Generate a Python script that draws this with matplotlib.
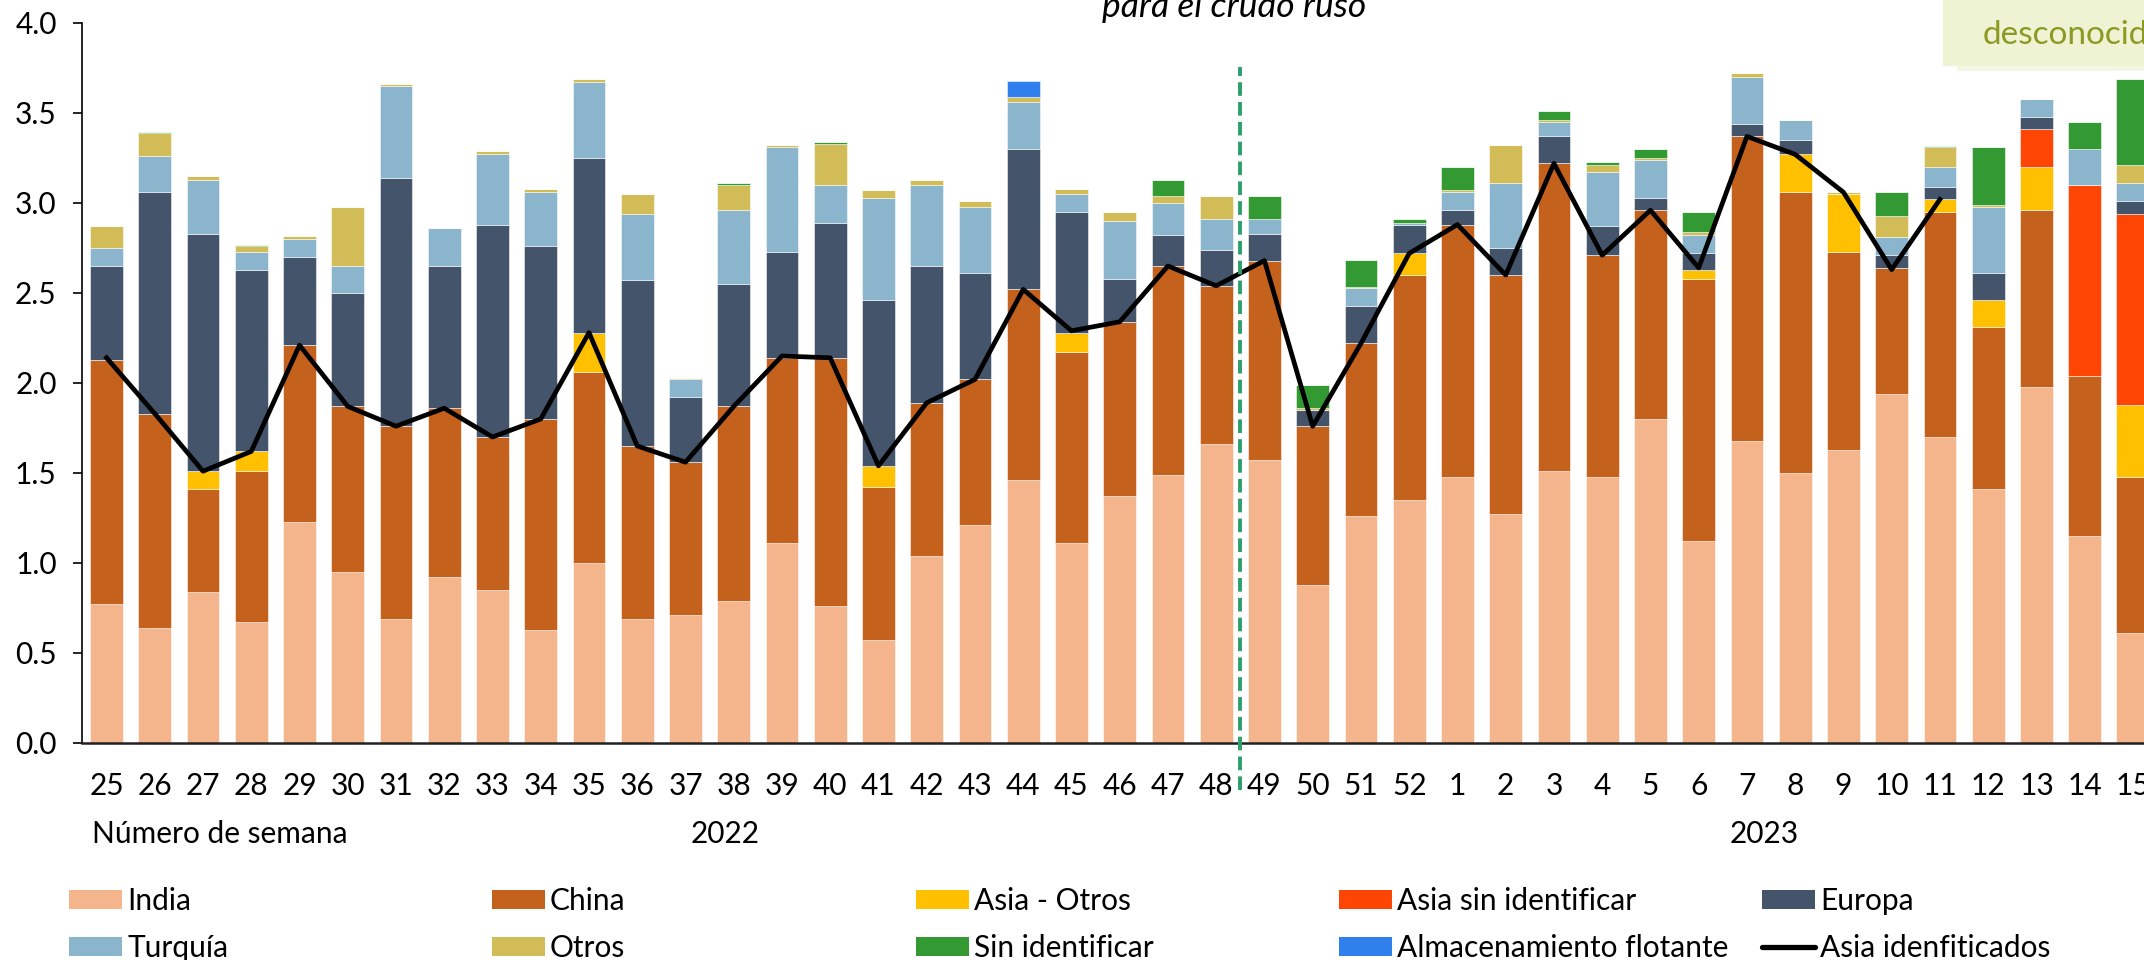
import numpy as np
import matplotlib
matplotlib.use('Agg')
import matplotlib.pyplot as plt
from matplotlib.patches import Patch, Rectangle
from matplotlib.lines import Line2D

plt.rcParams['font.family'] = ['Lato', 'DejaVu Sans']

weeks = [str(w) for w in list(range(25, 53)) + list(range(1, 16))]

india = [0.77, 0.64, 0.84, 0.67, 1.23, 0.95, 0.69, 0.92, 0.85, 0.63, 1.00, 0.69, 0.71, 0.79,
         1.11, 0.76, 0.57, 1.04, 1.21, 1.46, 1.11, 1.37, 1.49, 1.66, 1.57, 0.88, 1.26, 1.35,
         1.48, 1.27, 1.51, 1.48, 1.80, 1.12, 1.68, 1.50, 1.63, 1.94, 1.70, 1.41, 1.98, 1.15, 0.61]
china = [1.36, 1.19, 0.57, 0.84, 0.98, 0.92, 1.07, 0.94, 0.85, 1.17, 1.06, 0.96, 0.85, 1.08,
         1.03, 1.38, 0.85, 0.85, 0.81, 1.06, 1.06, 0.97, 1.16, 0.88, 1.11, 0.88, 0.96, 1.25,
         1.40, 1.33, 1.71, 1.23, 1.16, 1.46, 1.69, 1.56, 1.10, 0.70, 1.25, 0.90, 0.98, 0.89, 0.87]
asia_otros = [0, 0, 0.10, 0.11, 0, 0, 0, 0, 0, 0, 0.22, 0, 0, 0,
              0, 0, 0.12, 0, 0, 0, 0.11, 0, 0, 0, 0, 0, 0, 0.12,
              0, 0, 0, 0, 0, 0.05, 0, 0.21, 0.32, 0, 0.07, 0.15, 0.24, 0, 0.40]
asia_sin_id = [0] * 40 + [0.21, 1.06, 1.06]
europa = [0.52, 1.23, 1.32, 1.01, 0.49, 0.63, 1.38, 0.79, 1.18, 0.96, 0.97, 0.92, 0.36, 0.68,
          0.59, 0.75, 0.92, 0.76, 0.59, 0.78, 0.67, 0.24, 0.17, 0.20, 0.15, 0.09, 0.21, 0.16,
          0.08, 0.15, 0.15, 0.16, 0.07, 0.09, 0.07, 0.08, 0, 0.07, 0.07, 0.15, 0.07, 0, 0.07]
turquia = [0.10, 0.20, 0.30, 0.10, 0.10, 0.15, 0.51, 0.21, 0.39, 0.30, 0.42, 0.37, 0.10, 0.41,
           0.58, 0.21, 0.57, 0.45, 0.37, 0.26, 0.10, 0.32, 0.18, 0.17, 0.08, 0, 0.10, 0.01,
           0.10, 0.36, 0.08, 0.30, 0.21, 0.10, 0.26, 0.11, 0, 0.10, 0.11, 0.37, 0.10, 0.20, 0.10]
otros = [0.12, 0.13, 0.02, 0.03, 0.015, 0.33, 0.01, 0, 0.02, 0.02, 0.02, 0.11, 0.01, 0.14,
         0.01, 0.23, 0.04, 0.03, 0.03, 0.03, 0.03, 0.05, 0.04, 0.13, 0, 0.01, 0.005, 0,
         0.01, 0.21, 0.01, 0.04, 0.01, 0.02, 0.02, 0, 0.01, 0.12, 0.11, 0.01, 0, 0, 0.10]
sin_id = [0, 0.005, 0, 0.005, 0, 0, 0, 0, 0, 0, 0, 0, 0, 0.01,
          0, 0.01, 0, 0, 0, 0, 0, 0, 0.09, 0, 0.13, 0.13, 0.15, 0.02,
          0.13, 0, 0.05, 0.02, 0.05, 0.11, 0, 0, 0, 0.13, 0.005, 0.32, 0, 0.15, 0.48]
almacenamiento = [0] * 19 + [0.09] + [0] * 23
asia_identificados = [2.14, 1.83, 1.51, 1.62, 2.21, 1.87, 1.76, 1.86, 1.70, 1.80, 2.28, 1.65, 1.56, 1.87,
                      2.15, 2.14, 1.54, 1.89, 2.02, 2.52, 2.29, 2.34, 2.65, 2.54, 2.68, 1.76, 2.22, 2.72,
                      2.88, 2.60, 3.22, 2.71, 2.96, 2.64, 3.37, 3.27, 3.06, 2.63, 3.02,
                      np.nan, np.nan, np.nan, np.nan]

series = [
    ('India', india, '#F4B58C'),
    ('China', china, '#C4611C'),
    ('Asia - Otros', asia_otros, '#FFC000'),
    ('Asia sin identificar', asia_sin_id, '#FF4503'),
    ('Europa', europa, '#44546A'),
    ('Turquía', turquia, '#8BB5CD'),
    ('Otros', otros, '#D2BC57'),
    ('Sin identificar', sin_id, '#339933'),
    ('Almacenamiento flotante', almacenamiento, '#2F7FEC'),
]

FS = 21.5
W, H = 2144, 960
fig = plt.figure(figsize=(W / 100, H / 100), dpi=100)
ax = fig.add_axes([82.4 / W, 217 / H, 1 - 82.4 / W, 720 / H])

x = np.arange(len(weeks))
bottom = np.zeros(len(weeks))
handles = {}
for name, vals, color in series:
    vals = np.array(vals, dtype=float)
    ax.bar(x, vals, width=0.68, bottom=bottom, color=color,
           edgecolor=(1, 1, 1, 0.6), linewidth=0.6)
    bottom += vals
    handles[name] = Patch(facecolor=color, edgecolor='none')

ax.plot(x, asia_identificados, color='black', lw=3.4)
handles['Asia idenfiticados'] = Line2D([], [], color='black', lw=3.8, solid_capstyle='round')

# separation 2022 / 2023 data
ax.axvline(23.5, ymin=-0.065, ymax=0.939, color='#2E9F6C', lw=2.8,
           ls=(0, (3.5, 1.6)), clip_on=False, zorder=5)

ax.set_xlim(-0.5, 42.23)
ax.set_ylim(0, 4)
ax.set_xticks(x)
ax.set_xticklabels(weeks)
ax.set_yticks(np.arange(0, 4.01, 0.5))
ax.set_yticklabels([f'{v:.1f}' for v in np.arange(0, 4.01, 0.5)])
for s in ['top', 'right']:
    ax.spines[s].set_visible(False)
ax.spines['left'].set_linewidth(1.2)
ax.spines['bottom'].set_linewidth(1.8)
ax.spines['bottom'].set_color('#222222')
ax.tick_params(axis='x', length=0, pad=21, labelsize=FS)
ax.tick_params(axis='y', length=6.5, width=1.2, pad=12, labelsize=FS)

ty = 1 - 843 / H
fig.text(92 / W, ty, 'Número de semana', fontsize=FS, va='baseline')
fig.text(725 / W, ty, '2022', fontsize=FS, va='baseline', ha='center')
fig.text(1764 / W, ty, '2023', fontsize=FS, va='baseline', ha='center')

fig.text(1234 / W, 1 - 17 / H, 'para el crudo ruso', fontsize=25.5, style='italic',
         ha='center', va='baseline')

# note box top right
fig.patches.append(Rectangle((1957 / W, 1 - 71 / H), 0.2, 0.2, transform=fig.transFigure,
                             facecolor='#F4F6E4', edgecolor='none'))
fig.patches.append(Rectangle((1943 / W, 1 - 66 / H), 0.2, 0.2, transform=fig.transFigure,
                             facecolor='#EEF3D4', edgecolor='none'))
fig.text(1983 / W, 1 - 44 / H, 'desconocidos', fontsize=24, color='#8A9A22', va='baseline')

order = [['India', 'China', 'Asia - Otros', 'Asia sin identificar', 'Europa'],
         ['Turquía', 'Otros', 'Sin identificar', 'Almacenamiento flotante', 'Asia idenfiticados']]
col_x = [69, 492, 916, 1339, 1762]
row_y = [901, 948]
em = FS * 100 / 72
for r, names in enumerate(order):
    for c, name in enumerate(names):
        fig.legend(handles=[handles[name]], labels=[name], loc='center left',
                   bbox_to_anchor=(col_x[c] / W, 1 - row_y[r] / H), frameon=False,
                   borderpad=0, borderaxespad=0, fontsize=FS, handlelength=53 / em,
                   handleheight=18 / em, handletextpad=5 / em)

fig.savefig('out.png', dpi=100)
